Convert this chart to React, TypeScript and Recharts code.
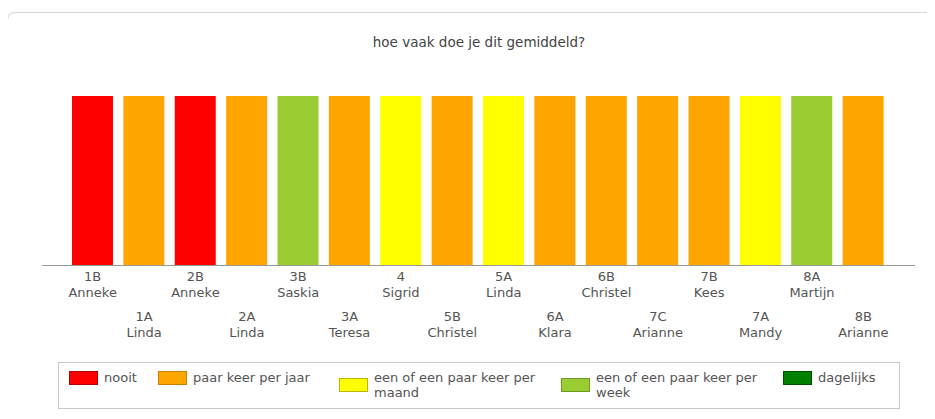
import { BarChart, Bar, XAxis, YAxis, Cell } from 'recharts';

const answers = [
  'nooit',
  'paar keer per jaar',
  'een of een paar keer per maand',
  'een of een paar keer per week',
  'dagelijks',
];
const answerColors = ['#ff0000', '#ffa500', '#ffff00', '#9acd32', '#008000'];
const swatchBorders = ['#b30000', '#c98200', '#b8b800', '#6f9a22', '#005200'];

const classes = ['1B', '1A', '2B', '2A', '3B', '3A', '4', '5B', '5A', '6A', '6B', '7C', '7B', '7A', '8A', '8B'];
const teachers = [
  'Anneke', 'Linda', 'Anneke', 'Linda', 'Saskia', 'Teresa', 'Sigrid', 'Christel',
  'Linda', 'Klara', 'Christel', 'Arianne', 'Kees', 'Mandy', 'Martijn', 'Arianne',
];
// index into answers for each class
const chosen = [0, 1, 0, 1, 3, 1, 2, 1, 2, 1, 1, 1, 1, 2, 3, 1];
const counts = [1, 1, 1, 1, 1, 1, 1, 1, 1, 1, 1, 1, 1, 1, 1, 1];

const data = classes.map((k, i) => ({ klas: k, teacher: teachers[i], answer: chosen[i], count: counts[i] }));

const legendWidths = [89, 181, 222, 222, 110];
const font = '"DejaVu Sans", Verdana, sans-serif';

function ClassTick(props: any) {
  const { x, y, index } = props;
  const shift = index % 2 === 0 ? 0 : 40;
  return (
    <text x={x} y={y} textAnchor="middle" fill="#555" fontSize={13} fontFamily={font}>
      <tspan x={x} y={y + 15.2 + shift}>{classes[index]}</tspan>
      <tspan x={x} y={y + 31 + shift}>{teachers[index]}</tspan>
    </text>
  );
}

export default function App() {
  return (
    <div style={{ position: 'relative', width: 927, height: 411, overflow: 'hidden', fontFamily: font }}>
      <div
        style={{
          position: 'absolute', left: -1, top: 4, width: 1000, height: 500,
          border: '1px solid #d8d8d8', borderRadius: 8, boxShadow: '-1px 0 1px rgba(0,0,0,0.12)',
        }}
      />
      <div style={{ position: 'absolute', left: 0, top: 26, width: 942, textAlign: 'center', fontSize: 13.5, color: '#444' }}>
        hoe vaak doe je dit gemiddeld?
      </div>
      <div style={{ position: 'absolute', left: 0, top: 0 }}>
        <BarChart width={927} height={411} data={data} margin={{ top: 88, right: 20, left: 34, bottom: 73.5 }}>
          <XAxis
            dataKey="klas"
            height={80}
            interval={0}
            tickLine={false}
            tickSize={0}
            tickMargin={0}
            padding={{ left: 25, right: 26 }}
            axisLine={{ stroke: '#999' }}
            tick={<ClassTick />}
          />
          <YAxis hide domain={[0, 1]} />
          <Bar dataKey="count" barSize={41} isAnimationActive={false}>
            {data.map((d, i) => (
              <Cell key={i} fill={answerColors[d.answer]} />
            ))}
          </Bar>
        </BarChart>
      </div>
      <div
        style={{
          position: 'absolute', left: 50, top: 354, width: 840, height: 45,
          border: '1px solid #c8c8c8', boxSizing: 'content-box',
          display: 'flex', alignItems: 'flex-start',
        }}
      >
        <div style={{ display: 'flex', alignItems: 'flex-start', paddingLeft: 10, paddingTop: 7 }}>
          {answers.map((a, i) => (
            <div key={a} style={{ width: legendWidths[i], display: 'flex', alignItems: 'center' }}>
              <span
                style={{
                  width: 27, height: 12, flex: 'none', background: answerColors[i],
                  border: `1px solid ${swatchBorders[i]}`, marginRight: 6,
                }}
              />
              <span style={{ fontSize: 13, lineHeight: '15px', color: '#555', maxWidth: 180 }}>{a}</span>
            </div>
          ))}
        </div>
      </div>
    </div>
  );
}
